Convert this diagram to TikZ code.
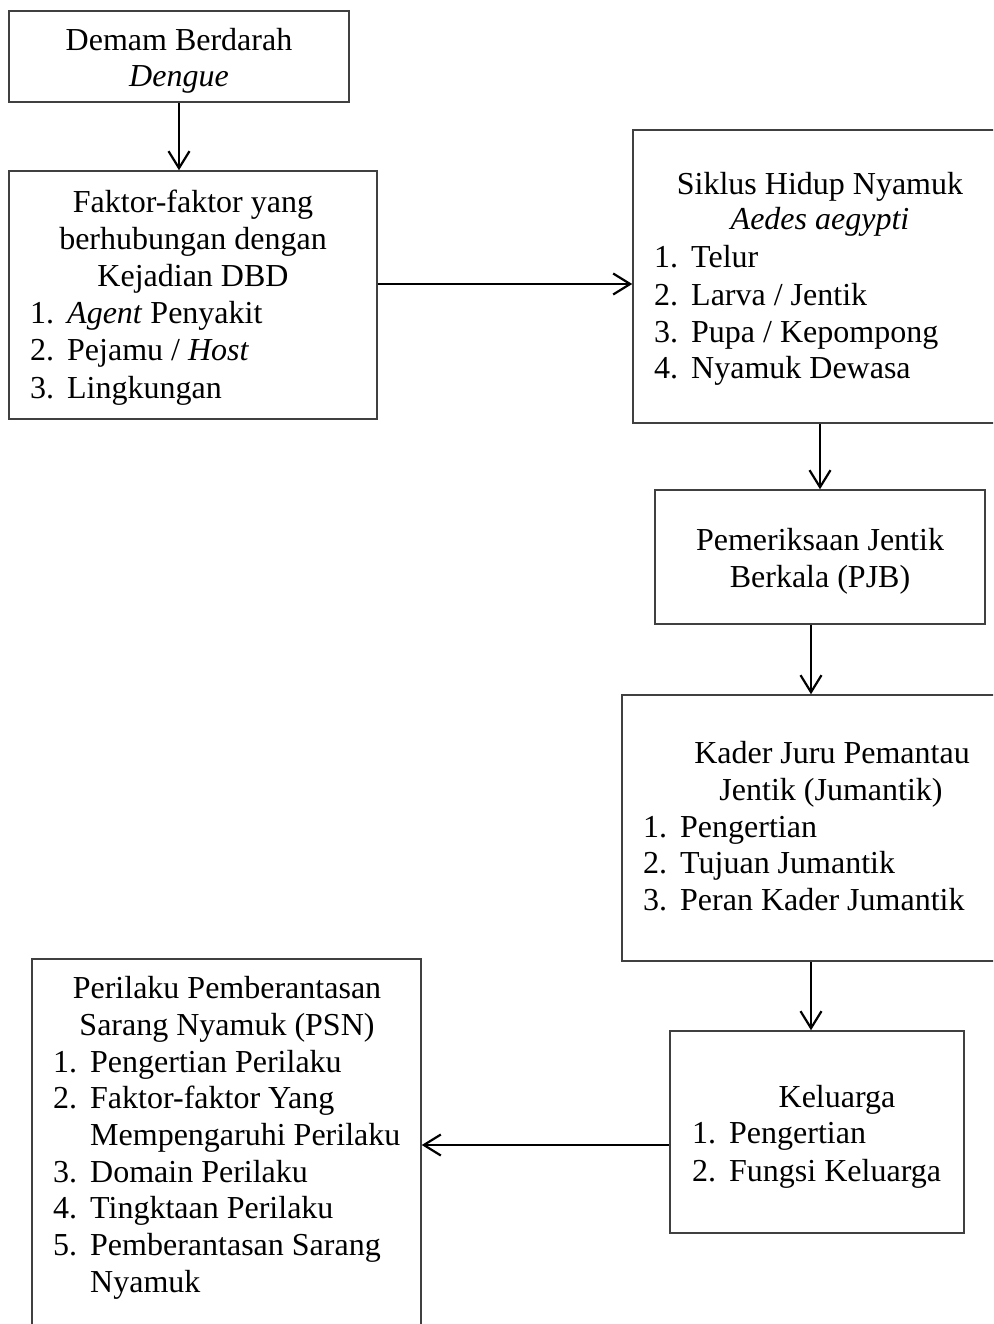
\documentclass[tikz,border=0pt]{standalone}
\usepackage{fontspec}
\setmainfont{Liberation Serif}
\usetikzlibrary{arrows.meta}
\newcommand\itm[1]{\makebox[37pt][l]{#1}}
\tikzset{
  box/.style={draw=black!75, line width=1.5pt, inner sep=0pt, anchor=center},
  txt/.style={font=\fontsize{32}{37}\selectfont, inner sep=0pt},
  ctr/.style={txt, anchor=base},
  lft/.style={txt, anchor=base west},
  arr/.style={line width=2.2pt, -{Straight Barb[length=17pt,width=21pt]}}
}
\begin{document}
\begin{tikzpicture}[x=1pt,y=-1pt]
\useasboundingbox (0,0) rectangle (993,1324);
\clip (0,0) rectangle (993,1324);
% boxes
\node[box, minimum width=340pt, minimum height=91pt] (demam) at (179,56.5) {};
\node[box, minimum width=368pt, minimum height=248pt] (faktor) at (193,295) {};
\node[box, minimum width=367pt, minimum height=293pt] (siklus) at (816.5,276.5) {};
\node[box, minimum width=330pt, minimum height=134pt] (pjb) at (820,557) {};
\node[box, minimum width=378pt, minimum height=266pt] (kader) at (811,828) {};
\node[box, minimum width=294pt, minimum height=202pt] (kel) at (817,1132) {};
\node[box, minimum width=389pt, minimum height=381pt] (psn) at (226.5,1149.5) {};
% texts: Demam
\node[ctr] (dm1) at (179,51) {Demam Berdarah};
\node[ctr] (dm2) at (179,87) {\textit{Dengue}};
% Faktor
\node[ctr] (fk1) at (193,213) {Faktor-faktor yang};
\node[ctr] (fk2) at (193,250) {berhubungan dengan};
\node[ctr] (fk3) at (193,287) {Kejadian DBD};
\node[lft] (fk4) at (30,323) {\itm{1.}\textit{Agent} Penyakit};
\node[lft] (fk5) at (30,360) {\itm{2.}Pejamu / \textit{Host}};
\node[lft] (fk6) at (30,398) {\itm{3.}Lingkungan};
% Siklus
\node[ctr] (sk1) at (820,195) {Siklus Hidup Nyamuk};
\node[ctr] (sk2) at (820,230) {\textit{Aedes aegypti}};
\node[lft] (sk3) at (654,268) {\itm{1.}Telur};
\node[lft] (sk4) at (654,305) {\itm{2.}Larva / Jentik};
\node[lft] (sk5) at (654,342) {\itm{3.}Pupa / Kepompong};
\node[lft] (sk6) at (654,378) {\itm{4.}Nyamuk Dewasa};
% PJB
\node[ctr] (pj1) at (820,550) {Pemeriksaan Jentik};
\node[ctr] (pj2) at (820,587) {Berkala (PJB)};
% Kader
\node[ctr] (kd1) at (832,763) {Kader Juru Pemantau};
\node[ctr] (kd2) at (831,800) {Jentik (Jumantik)};
\node[lft] (kd3) at (643,837) {\itm{1.}Pengertian};
\node[lft] (kd4) at (643,873) {\itm{2.}Tujuan Jumantik};
\node[lft] (kd5) at (643,910) {\itm{3.}Peran Kader Jumantik};
% Keluarga
\node[ctr] (kl1) at (837,1107) {Keluarga};
\node[lft] (kl2) at (692,1143) {\itm{1.}Pengertian};
\node[lft] (kl3) at (692,1181) {\itm{2.}Fungsi Keluarga};
% PSN
\node[ctr] (ps1) at (227,998) {Perilaku Pemberantasan};
\node[ctr] (ps2) at (227,1035) {Sarang Nyamuk (PSN)};
\node[lft] (ps3) at (53,1072) {\itm{1.}Pengertian Perilaku};
\node[lft] (ps4) at (53,1108) {\itm{2.}Faktor-faktor Yang};
\node[lft] (ps5) at (90,1145) {Mempengaruhi Perilaku};
\node[lft] (ps6) at (53,1182) {\itm{3.}Domain Perilaku};
\node[lft] (ps7) at (53,1218) {\itm{4.}Tingktaan Perilaku};
\node[lft] (ps8) at (53,1255) {\itm{5.}Pemberantasan Sarang};
\node[lft] (ps9) at (90,1292) {Nyamuk};
% connectors
\coordinate (a1) at ([yshift=11pt]faktor.east);
\coordinate (a2) at ([yshift=-13pt]kel.west);
\draw[arr] (demam.south) -- (demam.south |- faktor.north);
\draw[arr] (a1) -- (a1 -| siklus.west);
\draw[arr] (pjb.north |- siklus.south) -- (pjb.north);
\draw[arr] (kader.north |- pjb.south) -- (kader.north);
\draw[arr] (kader.south) -- (kader.south |- kel.north);
\draw[arr] (a2) -- (a2 -| psn.east);
\end{tikzpicture}
\end{document}
